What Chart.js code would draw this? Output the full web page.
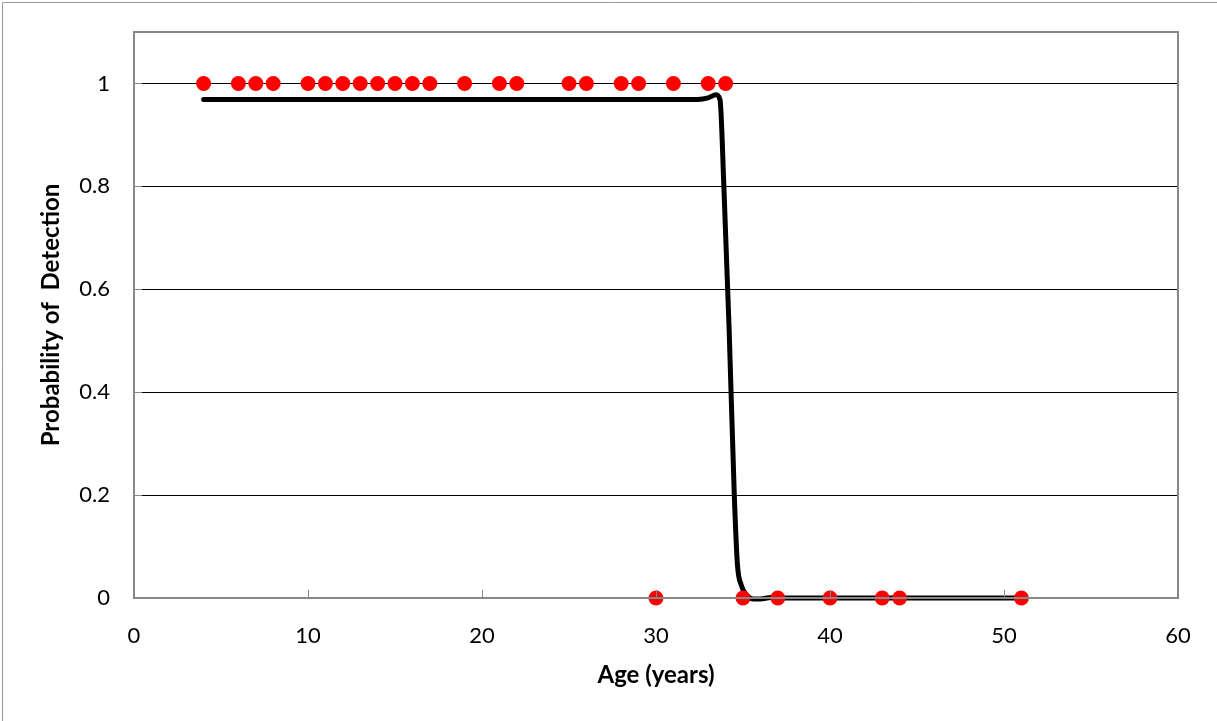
<!DOCTYPE html>
<html lang="en">

<head>
    <meta charset="UTF-8">
    <title>Probability of Detection</title>
    <script src="https://cdn.jsdelivr.net/npm/chart.js"></script>
    <style>
        body { margin: 0; background: #fff; }
        #wrap { width: 1217px; height: 721px; }
    </style>
</head>

<body>
    <div id="wrap">
        <canvas id="myChart"></canvas>
    </div>

    <script>
        // observed ages (years)
        const detectedAges = [4, 6, 7, 8, 10, 11, 12, 13, 14, 15, 16, 17, 19, 21, 22, 25, 26, 28, 29, 31, 33, 34];
        const missedAges = [30, 35, 37, 40, 43, 44, 51];

        // fitted curve
        const curveAge = [4, 32.4, 33.0, 33.45, 33.68, 33.9, 34.2, 34.5, 34.68, 34.9, 35.2, 35.6, 36.0, 36.6, 37.5, 51];
        const curveProb = [0.969, 0.969, 0.972, 0.978, 0.968, 0.80, 0.525, 0.2, 0.065, 0.025, 0.006, -0.002, -0.002, 0.001, 0, 0];

        const xTicks = [0, 10, 20, 30, 40, 50, 60];
        const yTicks = [0, 0.2, 0.4, 0.6, 0.8, 1];

        const ctx = document.getElementById('myChart');
        const frameColor = '#878787';
        const fontFam = 'Lato, "Open Sans", sans-serif';

        // frame + inward tick marks
        const frame = {
            id: 'frame',
            beforeDraw(chart) {
                const c = chart.ctx;
                c.save();
                c.strokeStyle = '#9a9a9a';
                c.lineWidth = 1;
                c.beginPath();
                c.moveTo(2.5, chart.height);
                c.lineTo(2.5, 2.5);
                c.lineTo(chart.width, 2.5);
                c.stroke();
                c.restore();
            },
            afterDatasetsDraw(chart) {
                const { left, right, top, bottom } = chart.chartArea;
                const c = chart.ctx;
                c.save();
                c.strokeStyle = frameColor;
                c.lineWidth = 2;
                c.strokeRect(left, top, right - left, bottom - top);
                c.lineWidth = 1;
                c.beginPath();
                xTicks.forEach(v => {
                    const px = Math.round(chart.scales.x.getPixelForValue(v)) + 0.5;
                    c.moveTo(px, bottom);
                    c.lineTo(px, bottom - 8);
                });
                yTicks.forEach(v => {
                    const py = Math.round(chart.scales.y.getPixelForValue(v)) + 0.5;
                    c.moveTo(left, py);
                    c.lineTo(left + 8, py);
                });
                c.stroke();
                c.restore();
            }
        };

        new Chart(ctx, {
            type: 'scatter',
            data: {
                datasets: [{
                    label: 'Observed',
                    data: detectedAges.map(a => ({ x: a, y: 1 })).concat(missedAges.map(a => ({ x: a, y: 0 }))),
                    backgroundColor: '#ff0000',
                    borderColor: '#ff0000',
                    pointRadius: 7.5,
                    pointHoverRadius: 7.5,
                    borderWidth: 0,
                    clip: false,
                    order: 0
                }, {
                    label: 'Fit',
                    data: curveAge.map((a, i) => ({ x: a, y: curveProb[i] })),
                    showLine: true,
                    pointRadius: 0,
                    borderColor: '#000',
                    borderWidth: 5,
                    cubicInterpolationMode: 'monotone',
                    borderCapStyle: 'round',
                    borderJoinStyle: 'round',
                    clip: false,
                    order: 1
                }]
            },
            options: {
                responsive: true,
                maintainAspectRatio: false,
                animation: false,
                layout: { padding: { left: 0, top: 32, right: 39, bottom: 0 } },
                plugins: {
                    legend: { display: false },
                    tooltip: { enabled: false }
                },
                scales: {
                    x: {
                        type: 'linear',
                        min: 0,
                        max: 60,
                        afterBuildTicks: s => { s.ticks = xTicks.map(v => ({ value: v })); },
                        afterFit: s => { s.height = 123; s.paddingLeft = 0; s.paddingRight = 0; },
                        grid: { display: false, drawTicks: false },
                        border: { display: false },
                        ticks: {
                            color: '#000',
                            padding: 25,
                            maxRotation: 0,
                            font: { family: fontFam, size: 22 }
                        },
                        title: {
                            display: true,
                            text: 'Age (years)',
                            color: '#000',
                            padding: { top: 0, bottom: 31 },
                            font: { family: fontFam, size: 24, weight: 'bold' }
                        }
                    },
                    y: {
                        min: 0,
                        max: 1.1,
                        afterBuildTicks: s => { s.ticks = yTicks.map(v => ({ value: v })); },
                        afterFit: s => { s.width = 134; s.paddingTop = 0; s.paddingBottom = 0; },
                        grid: {
                            color: ctx => ctx.tick && ctx.tick.value === 0 ? 'rgba(0,0,0,0)' : '#000',
                            lineWidth: 1,
                            drawTicks: false
                        },
                        border: { display: false },
                        ticks: {
                            color: '#000',
                            padding: 24,
                            callback: v => String(Number(v.toFixed(1))),
                            font: { family: fontFam, size: 22 }
                        },
                        title: {
                            display: true,
                            text: 'Probability of  Detection',
                            color: '#000',
                            padding: { top: 37, bottom: 0 },
                            font: { family: fontFam, size: 24, weight: 'bold' }
                        }
                    }
                }
            },
            plugins: [frame]
        });
    </script>
</body>

</html>
